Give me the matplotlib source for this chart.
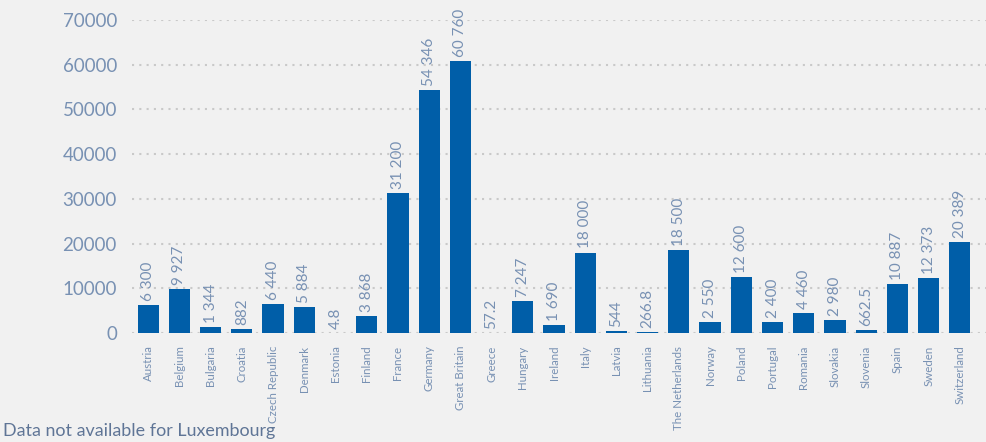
import matplotlib.pyplot as plt

countries = ['Austria', 'Belgium', 'Bulgaria', 'Croatia', 'Czech Republic', 'Denmark',
             'Estonia', 'Finland', 'France', 'Germany', 'Great Britain', 'Greece',
             'Hungary', 'Ireland', 'Italy', 'Latvia', 'Lithuania', 'The Netherlands',
             'Norway', 'Poland', 'Portugal', 'Romania', 'Slovakia', 'Slovenia',
             'Spain', 'Sweden', 'Switzerland']
values = [6300, 9927, 1344, 882, 6440, 5884, 4.8, 3868, 31200, 54346, 60760, 57.2,
          7247, 1690, 18000, 544, 266.8, 18500, 2550, 12600, 2400, 4460, 2980, 662.5,
          10887, 12373, 20389]
yticks = [0, 10000, 20000, 30000, 40000, 50000, 60000, 70000]

bg = '#f1f1f1'
bar_color = '#005ea8'
text_color = '#7891b3'


def fmt(v):
    if float(v).is_integer():
        return '{:,}'.format(int(v)).replace(',', ' ')
    return str(v)


fig = plt.figure(figsize=(9.87, 4.42), dpi=100, facecolor=bg)
ax = fig.add_axes([0.134, 0.2466, 0.866, 0.7082], facecolor=bg)

x = range(len(countries))
ax.bar(x, values, width=0.68, color=bar_color, zorder=3)

for i, v in enumerate(values):
    ax.text(i, v + 900, fmt(v), rotation=90, ha='center', va='bottom',
            fontsize=11, color=text_color, family='Lato', zorder=4)

ax.set_ylim(0, 70000)
ax.set_xlim(-0.51, 26.87)
ax.set_yticks(yticks)
ax.set_yticklabels([str(t) for t in yticks], fontsize=13.5, color=text_color,
                   family='Lato')
ax.set_xticks(list(x))
ax.set_xticklabels(countries, rotation=90, fontsize=8.3, color=text_color,
                   family='Lato')
ax.tick_params(axis='y', length=0, pad=11)
ax.tick_params(axis='x', length=0, pad=9)

ax.grid(axis='y', color='#c9c9c9', linestyle=(0, (1, 2.5)), linewidth=1.5, zorder=0)
for s in ax.spines.values():
    s.set_visible(False)

fig.text(0.003, 0.025, 'Data not available for Luxembourg', fontsize=12.9,
         color='#5f7596', family='Lato', ha='left', va='center')

plt.savefig('out.png', dpi=100, facecolor=bg)
